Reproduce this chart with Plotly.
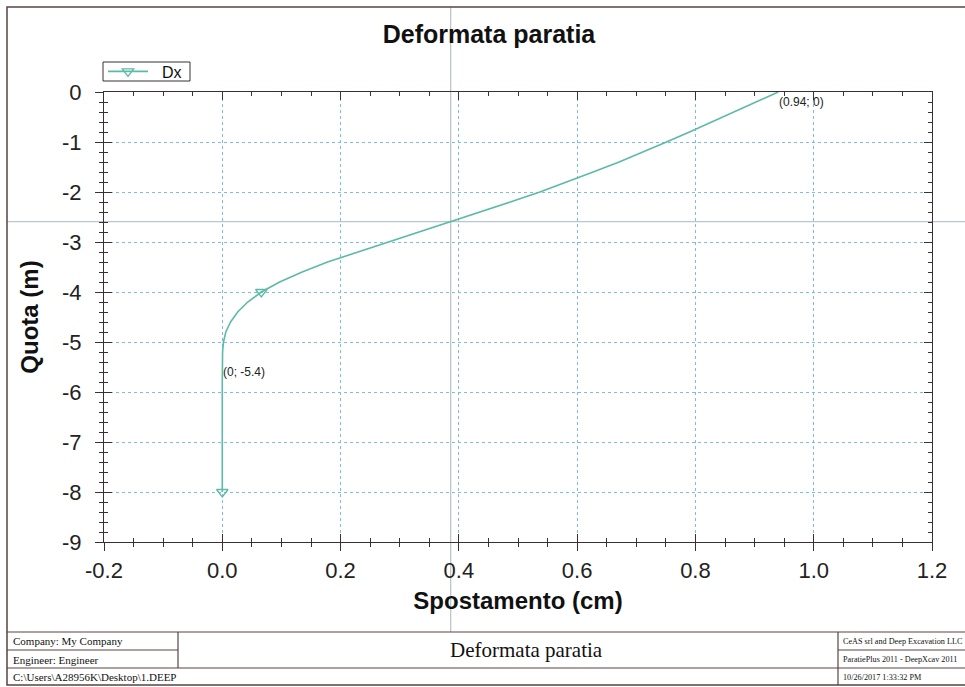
import plotly.graph_objects as go

# ---------------- data ----------------
quota = [0.0, -0.2, -0.4, -0.6, -0.8, -1.0, -1.2, -1.4, -1.6, -1.8,
         -2.0, -2.2, -2.4, -2.6, -2.8, -3.0, -3.2, -3.4, -3.6, -3.8,
         -4.0, -4.2, -4.4, -4.6, -4.8, -5.0, -5.2, -5.4, -5.6, -5.8,
         -6.0, -6.2, -6.4, -6.6, -6.8, -7.0, -7.2, -7.4, -7.6, -7.8, -8.0]
spostamento = [0.94, 0.903, 0.866, 0.828, 0.79, 0.751, 0.712, 0.671, 0.627, 0.583,
               0.537, 0.487, 0.435, 0.385, 0.334, 0.283, 0.228, 0.178, 0.135, 0.097,
               0.066, 0.043, 0.026, 0.014, 0.006, 0.002, 0.0005, 0.0, 0.0, 0.0,
               0.0, 0.0, 0.0, 0.0, 0.0, 0.0, 0.0, 0.0, 0.0, 0.0, 0.0]
marker_idx = [20, 40]          # points drawn with a marker
label_idx = [0, 27]            # points with a value label
series_name = "Dx"

x_ticks = [-0.2, 0.0, 0.2, 0.4, 0.6, 0.8, 1.0, 1.2]
x_ticktext = ["-0.2", "0.0", "0.2", "0.4", "0.6", "0.8", "1.0", "1.2"]
y_ticks = [0, -1, -2, -3, -4, -5, -6, -7, -8, -9]
y_ticktext = ["0", "-1", "-2", "-3", "-4", "-5", "-6", "-7", "-8", "-9"]

title_text = "Deformata paratia"
x_title = "Spostamento (cm)"
y_title = "Quota (m)"
footer_left = ["Company: My Company", "Engineer: Engineer", "C:\\Users\\A28956K\\Desktop\\1.DEEP"]
footer_center = "Deformata paratia"
footer_right = ["CeAS srl and Deep Excavation LLC", "ParatiePlus 2011 - DeepXcav 2011", "10/26/2017 1:33:32 PM"]

# ---------------- layout helpers ----------------
W, H = 965, 687
L, R, T, B = 104, 932, 92, 542


def px(p):
    return (p - L) / (R - L)


def py(p):
    return (B - p) / (B - T)


LINE_COL = "#5dbaa7"
AX_COL = "#3b3030"
GRID_COL = "#7dbde0"
SANS = "Liberation Sans, Arial, sans-serif"
SERIF = "Liberation Serif, Times New Roman, serif"
MARKER = dict(symbol="triangle-down-open", size=10, color=LINE_COL,
              line=dict(width=1.3, color=LINE_COL))

fig = go.Figure()

fig.add_trace(go.Scatter(
    x=spostamento, y=quota, mode="lines", line=dict(color=LINE_COL, width=1.6),
    showlegend=False, hoverinfo="skip"))
fig.add_trace(go.Scatter(
    x=[spostamento[i] for i in marker_idx], y=[quota[i] for i in marker_idx],
    mode="markers", marker=MARKER, showlegend=False, hoverinfo="skip"))
fig.add_trace(go.Scatter(
    x=[None], y=[None], mode="lines+markers", name="&nbsp;&nbsp;" + series_name,
    line=dict(color=LINE_COL, width=1.6), marker=MARKER))
# invisible trace to host the overlay axes (outside ticks)
fig.add_trace(go.Scatter(x=[None], y=[None], xaxis="x2", yaxis="y2",
                         showlegend=False, hoverinfo="skip"))

for i in label_idx:
    xv, yv = spostamento[i], quota[i]
    fig.add_annotation(x=xv, y=yv, xref="x", yref="y", text=f"({xv:g}; {yv:g})",
                       showarrow=False, xanchor="left", yanchor="top", xshift=-1, yshift=-1,
                       font=dict(family=SANS, size=12, color="#222"))

axis_common = dict(showline=True, linecolor=AX_COL, linewidth=1, zeroline=False,
                   tickcolor=AX_COL, tickwidth=1)

fig.update_layout(
    width=W, height=H,
    margin=dict(l=L, r=W - R, t=T, b=H - B),
    paper_bgcolor="white", plot_bgcolor="white",
    title=dict(text=f"<b>{title_text}</b>", x=489 / W, xanchor="center",
               y=1 - 34 / H, yanchor="middle",
               font=dict(family=SANS, size=25, color="#111")),
    xaxis=dict(range=[-0.2, 1.2], tickvals=x_ticks, ticktext=x_ticktext,
               ticks="inside", ticklen=8, mirror="ticks",
               showgrid=True, gridcolor=GRID_COL, griddash="dot", gridwidth=1,
               minor=dict(dtick=0.05, tick0=0, ticks="inside", ticklen=4,
                          tickcolor=AX_COL, showgrid=False),
               tickfont=dict(family=SANS, size=22, color="#222"),
               ticklabelstandoff=9,
               title=dict(text=f"<b>{x_title}</b>", standoff=9,
                          font=dict(family=SANS, size=24, color="#111")),
               **axis_common),
    yaxis=dict(range=[-9, 0], tickvals=y_ticks, ticktext=y_ticktext,
               ticks="inside", ticklen=8, mirror="ticks",
               showgrid=True, gridcolor=GRID_COL, griddash="dot", gridwidth=1,
               minor=dict(dtick=0.2, tick0=0, ticks="inside", ticklen=4,
                          tickcolor=AX_COL, showgrid=False),
               tickfont=dict(family=SANS, size=22, color="#222"),
               ticklabelstandoff=17,
               title=dict(text=f"<b>{y_title}</b>", standoff=16,
                          font=dict(family=SANS, size=24, color="#111")),
               **axis_common),
    xaxis2=dict(range=[-0.2, 1.2], overlaying="x", anchor="y", side="bottom",
                tickvals=x_ticks, ticks="outside", ticklen=8, showticklabels=False,
                showgrid=False, showline=False, zeroline=False,
                tickcolor=AX_COL,
                minor=dict(dtick=0.05, tick0=0, ticks="outside", ticklen=4,
                           tickcolor=AX_COL, showgrid=False)),
    yaxis2=dict(range=[-9, 0], overlaying="y", anchor="x", side="left",
                tickvals=y_ticks, ticks="outside", ticklen=8, showticklabels=False,
                showgrid=False, showline=False, zeroline=False,
                tickcolor=AX_COL,
                minor=dict(dtick=0.2, tick0=0, ticks="outside", ticklen=4,
                           tickcolor=AX_COL, showgrid=False)),
    legend=dict(x=px(103), y=py(71.5), xanchor="left", yanchor="middle",
                borderwidth=0, bgcolor="rgba(0,0,0,0)", itemwidth=40,
                font=dict(family=SANS, size=16, color="#111")),
)

shapes = []
BORDER = "#5a4440"
# crosshair lines
shapes.append(dict(type="line", xref="paper", yref="paper", x0=px(450.7), x1=px(450.7),
                   y0=py(7), y1=py(632), line=dict(color="#b9c1c6", width=1.2), layer="below"))
shapes.append(dict(type="line", xref="paper", yref="paper", x0=px(7), x1=px(990),
                   y0=py(221.7), y1=py(221.7), line=dict(color="#b9c6ce", width=1.2), layer="below"))
# legend frame
shapes.append(dict(type="rect", xref="paper", yref="paper", x0=px(103), x1=px(190),
                   y0=py(81), y1=py(62), line=dict(color=AX_COL, width=1), fillcolor="white",
                   layer="above"))
# outer border
shapes.append(dict(type="rect", xref="paper", yref="paper", x0=px(7), x1=px(1000),
                   y0=py(685), y1=py(7), line=dict(color=BORDER, width=1.5)))
# footer table
TT, R1, R2, TB = 632, 650, 668, 685
C1, C2 = 178, 838


def hline(y, xa, xb):
    shapes.append(dict(type="line", xref="paper", yref="paper", x0=px(xa), x1=px(xb),
                       y0=py(y), y1=py(y), line=dict(color=BORDER, width=1.2)))


def vline(x, ya, yb):
    shapes.append(dict(type="line", xref="paper", yref="paper", x0=px(x), x1=px(x),
                       y0=py(ya), y1=py(yb), line=dict(color=BORDER, width=1.2)))


hline(TT, 7, 1000)
hline(R1, 7, C1)
hline(R1, C2, 1000)
hline(R2, 7, 1000)
vline(C1, TT, R2)
vline(C2, TT, TB)
fig.update_layout(shapes=shapes)

row_centers = [641, 659.5, 677]
for txt, yc in zip(footer_left, row_centers):
    fig.add_annotation(x=px(11), y=py(yc), xref="paper", yref="paper", text=txt,
                       showarrow=False, xanchor="left", yanchor="middle",
                       font=dict(family=SERIF, size=11, color="#111"))
for txt, yc in zip(footer_right, row_centers):
    fig.add_annotation(x=px(841), y=py(yc), xref="paper", yref="paper", text=txt,
                       showarrow=False, xanchor="left", yanchor="middle",
                       font=dict(family=SERIF, size=8.2, color="#111"))
fig.add_annotation(x=px(526), y=py((TT + R2) / 2), xref="paper", yref="paper",
                   text=footer_center, showarrow=False, xanchor="center", yanchor="middle",
                   font=dict(family=SERIF, size=21, color="#111"))

fig.write_html("out.html")
